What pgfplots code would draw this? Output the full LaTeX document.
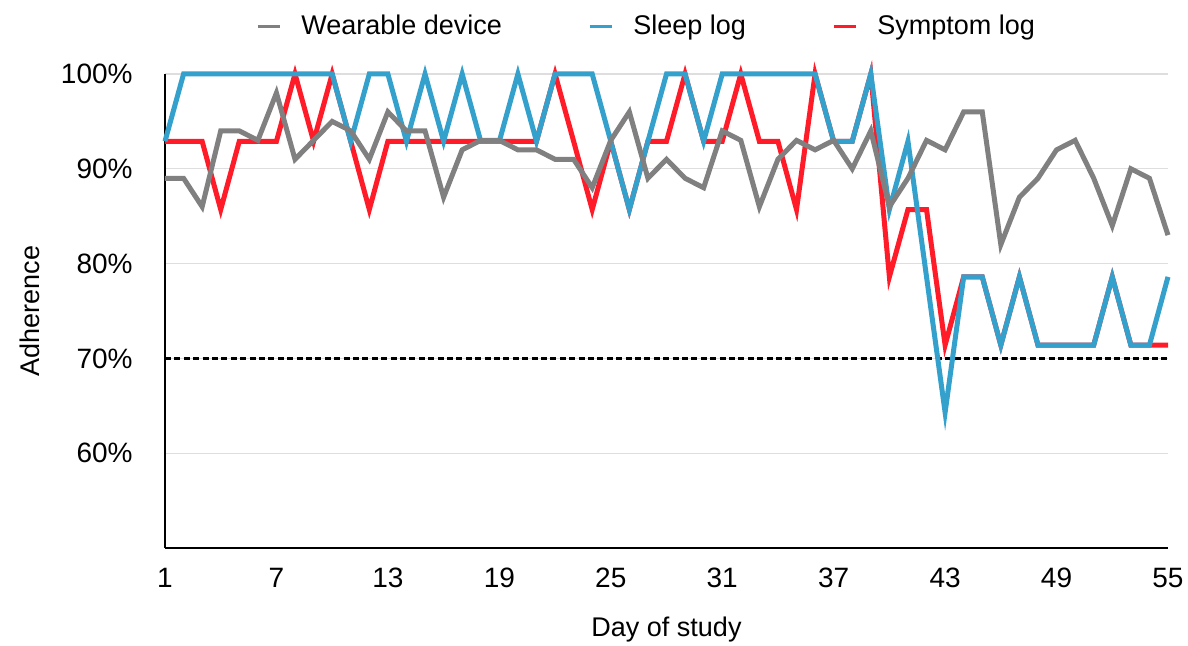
\documentclass[border=0pt]{standalone}
\usepackage{fontspec}
\setmainfont{Liberation Sans}
\usepackage{pgfplots}
\pgfplotsset{compat=1.18}
\definecolor{wgray}{RGB}{128,128,128}
\definecolor{sblue}{RGB}{52,160,204}
\definecolor{sred}{RGB}{255,28,40}
\definecolor{gridc}{RGB}{222,222,222}
\pgfplotstableread{
d W S R
1 89 92.9 92.9
2 89 100 92.9
3 86 100 92.9
4 94 100 85.7
5 94 100 92.9
6 93 100 92.9
7 98 100 92.9
8 91 100 100
9 93 100 92.9
10 95 100 100
11 94 92.9 92.9
12 91 100 85.7
13 96 100 92.9
14 94 92.9 92.9
15 94 100 92.9
16 87 92.9 92.9
17 92 100 92.9
18 93 92.9 92.9
19 93 92.9 92.9
20 92 100 92.9
21 92 92.9 92.9
22 91 100 100
23 91 100 92.9
24 88 100 85.7
25 93 92.9 92.9
26 96 85.7 85.7
27 89 92.9 92.9
28 91 100 92.9
29 89 100 100
30 88 92.9 92.9
31 94 100 92.9
32 93 100 100
33 86 100 92.9
34 91 100 92.9
35 93 100 85.7
36 92 100 100
37 93 92.9 92.9
38 90 92.9 92.9
39 94 100 100
40 86 85.7 78.6
41 89 92.9 85.7
42 93 78.6 85.7
43 92 64.3 71.4
44 96 78.6 78.6
45 96 78.6 78.6
46 82 71.4 71.4
47 87 78.6 78.6
48 89 71.4 71.4
49 92 71.4 71.4
50 93 71.4 71.4
51 89 71.4 71.4
52 84 78.6 78.6
53 90 71.4 71.4
54 89 71.4 71.4
55 83 78.6 71.4
}\adh
\begin{document}
\fontsize{13.5}{16}\selectfont
\begin{tikzpicture}
\begin{axis}[
  at={(0,0)}, anchor=south west,
  scale only axis, width=501.5pt, height=237pt,
  xmin=1, xmax=55, ymin=50, ymax=100,
  axis x line*=bottom, axis y line*=left,
  axis line style={black, line width=1pt, -},
  xtick={1,7,...,55}, ytick={60,70,80,90,100},
  major tick length=0pt,
  ymajorgrids, grid style={gridc, line width=0.6pt},
  yticklabel={\pgfmathprintnumber{\tick}\%},
  /pgf/number format/assume math mode=true,
  tick label style={font=\fontsize{14}{16}\selectfont},
  xticklabel style={yshift=-5.5pt},
  yticklabel style={xshift=-11.5pt},
  xlabel={Day of study}, ylabel={Adherence},
  every axis x label/.style={at={(axis description cs:0.5,-0.173)}, anchor=center},
  every axis y label/.style={at={(axis description cs:-0.1346,0.5)}, rotate=90, anchor=center},
  label style={font=\fontsize{13.5}{16}\selectfont},
  clip=false,
  legend columns=3,
  legend style={draw=none, fill=none, at={(0.481,1.1)}, anchor=center,
    font=\fontsize{13.5}{16}\selectfont,
    /tikz/every odd column/.append style={column sep=8pt},
    /tikz/every even column/.append style={column sep=41pt}},
  legend image code/.code={\draw[#1, line width=1.7pt] (0pt,0pt) -- (11pt,0pt);},
]
\addlegendimage{wgray}
\addlegendentry{Wearable device}
\addlegendimage{sblue}
\addlegendentry{Sleep log}
\addlegendimage{sred}
\addlegendentry{Symptom log}
\addplot[black, line width=1.2pt, dash pattern=on 3pt off 1.7pt, forget plot] coordinates {(1,70) (55,70)};
\addplot[sred, line width=2.5pt, forget plot] table[x=d, y=R] {\adh};
\addplot[sblue, line width=2.5pt, forget plot] table[x=d, y=S] {\adh};
\addplot[wgray, line width=2.5pt, forget plot] table[x=d, y=W] {\adh};
\end{axis}
\pgfresetboundingbox
\path[use as bounding box] (-82.5pt,-49pt) rectangle (511.5pt,274pt);
\end{tikzpicture}
\end{document}
